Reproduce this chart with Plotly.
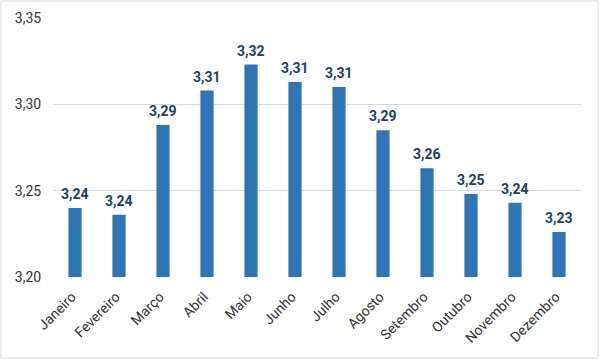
import plotly.graph_objects as go

months = ["Janeiro", "Fevereiro", "Março", "Abril", "Maio", "Junho", "Julho",
          "Agosto", "Setembro", "Outubro", "Novembro", "Dezembro"]
values = [3.240, 3.236, 3.288, 3.308, 3.323, 3.313, 3.310,
          3.285, 3.263, 3.248, 3.243, 3.226]
y_ticks = [3.20, 3.25, 3.30, 3.35]

fig = go.Figure(go.Bar(
    x=months, y=values, width=0.3,
    marker=dict(color="#2E75B6", line=dict(width=0)),
    hoverinfo="x+y",
))

for m, v in zip(months, values):
    fig.add_annotation(x=m, y=v, text=f"{v:.2f}".replace(".", ","),
                       showarrow=False, yanchor="bottom", yshift=4,
                       font=dict(family="Roboto", size=14, color="#243F60",
                                 weight="bold"))

L, R, T, B = 53, 19, 18, 83
W, H = 600, 360
pw, ph = W - L - R, H - T - B
fig.add_shape(type="rect", xref="paper", yref="paper",
              x0=(1 - L) / pw, x1=(W - 2 - L) / pw,
              y0=(T + ph - (H - 2)) / ph, y1=(T + ph - 1) / ph,
              line=dict(color="#D9D9D9", width=1))

fig.update_layout(
    width=W, height=H, margin=dict(l=L, r=R, t=T, b=B, autoexpand=False),
    paper_bgcolor="white", plot_bgcolor="white",
    separators=",.", showlegend=False,
    font=dict(family="Roboto", size=14, color="#333333"),
)
fig.update_yaxes(range=[3.20, 3.35], tickvals=y_ticks, tickformat=".2f",
                 showgrid=True, gridcolor="#D9D9D9", gridwidth=1,
                 zeroline=False, showline=False,
                 ticks="outside", ticklen=8, tickcolor="rgba(0,0,0,0)",
                 automargin=False,
                 tickfont=dict(size=14, color="#333333"))
fig.update_xaxes(tickangle=-45, showline=False, ticks="", automargin=False,
                 ticklabelstandoff=8, ticklabelshift=-3,
                 tickfont=dict(size=14, color="#333333"))

fig.write_html("out.html", config={"displayModeBar": False},
               post_script="document.body.style.margin='0';")
